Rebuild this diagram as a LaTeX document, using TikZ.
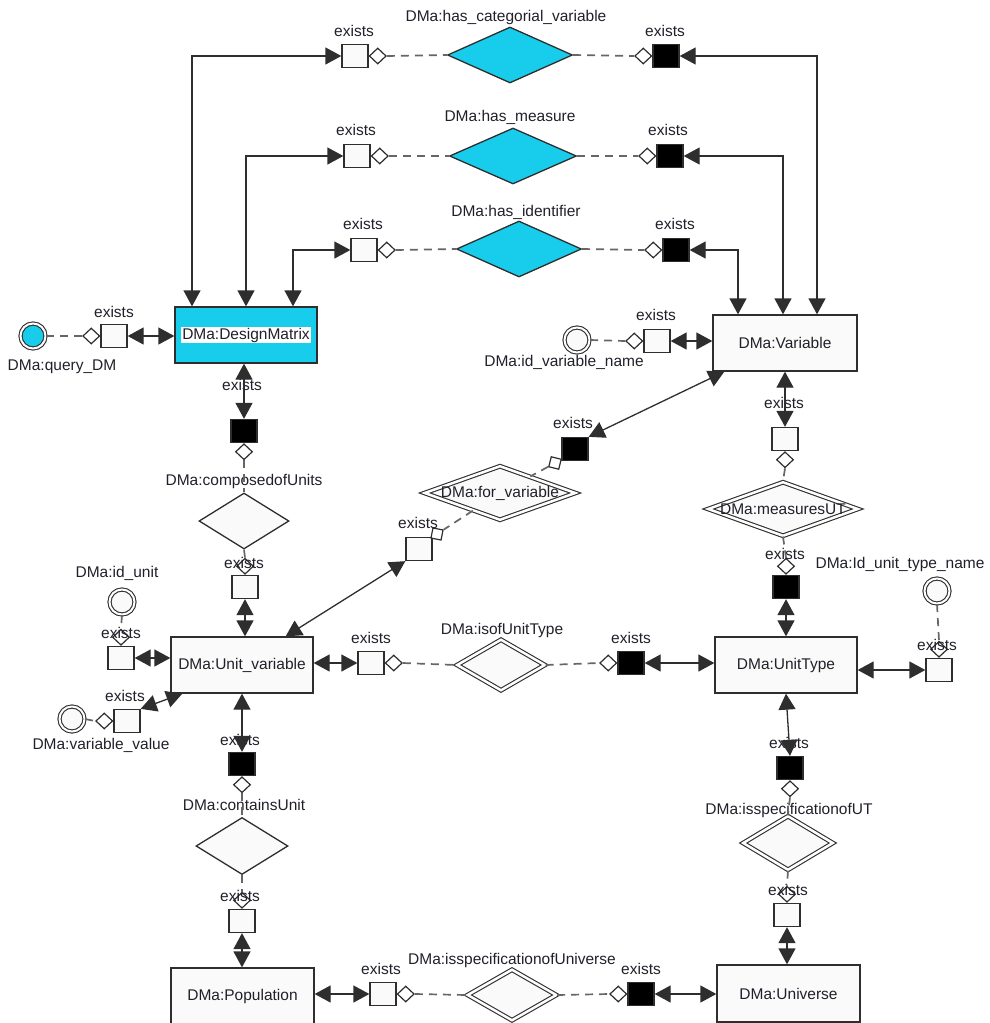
\documentclass[tikz,border=0pt]{standalone}
\usepackage{fontspec}
\setmainfont{Liberation Sans}
\usepackage{tikz}
\usetikzlibrary{arrows.meta,positioning,shapes.geometric}
\definecolor{ink}{HTML}{231F2A}
\definecolor{edge}{HTML}{2E2E2E}
\definecolor{dashgray}{HTML}{666666}
\definecolor{boxfill}{HTML}{FAFAFA}
\definecolor{cyanfill}{HTML}{18CCEC}
\tikzset{
  every node/.style={font=\fontsize{15.5}{18}\selectfont,text=ink},
  entity/.style={draw=edge,line width=1.3pt,fill=boxfill,minimum width=142pt,minimum height=56pt,inner sep=2pt},
  keyentity/.style={entity,fill=cyanfill},
  rel/.style={diamond,draw=edge,line width=1.3pt,fill=boxfill,inner sep=0pt},
  keyrel/.style={rel,fill=cyanfill},
  weakrel/.style={rel,line width=1.1pt,double=white,double distance=2.5pt},
  role/.style={draw=edge,line width=1.3pt,fill=boxfill,minimum width=26pt,minimum height=23pt,inner sep=0pt},
  rolefull/.style={role,fill=black},
  hook/.style={diamond,draw=edge,line width=1.2pt,fill=white,minimum width=17pt,minimum height=16pt,inner sep=0pt},
  attr/.style={circle,draw=edge,line width=1.1pt,double=white,double distance=2pt,fill=boxfill,minimum size=25pt,inner sep=0pt},
  biarrow/.style={{Triangle[length=16pt,width=17pt]}-{Triangle[length=16pt,width=17pt]},line width=1.3pt,draw=edge},
  dashlink/.style={dash pattern=on 8pt off 6pt,line width=1.7pt,draw=dashgray}
}
\begin{document}
\begin{tikzpicture}[x=1pt,y=-1pt]
  \useasboundingbox (0,0) rectangle (989,1023);

  % entities
  \node[keyentity] (dm) at (246,335) {{\setlength{\fboxsep}{0.8pt}\colorbox{white}{DMa:DesignMatrix}}};
  \node[entity,minimum width=144pt] (var) at (785,343) {DMa:Variable};
  \node[entity] (uv) at (242,665) {DMa:Unit\_variable};
  \node[entity] (ut) at (786,665) {DMa:UnitType};
  \node[entity,minimum width=143pt] (pop) at (242.5,996) {DMa:Population};
  \node[entity,minimum width=143pt,minimum height=57pt] (uni) at (788.5,993.5) {DMa:Universe};

  % relationships
  \node[keyrel,minimum width=125pt,minimum height=56pt] (hcv) at (510,55) {};
  \node[keyrel,minimum width=127pt,minimum height=56pt] (hm) at (513,156) {};
  \node[keyrel,minimum width=125pt,minimum height=56pt] (hi) at (519,249) {};
  \node[rel,minimum width=90pt,minimum height=56pt] (cou) at (244,521) {};
  \node[rel,minimum width=92pt,minimum height=57pt] (cu) at (242,846) {};
  \node[weakrel,minimum width=151pt,minimum height=54pt] (fv) at (500,493) {};
  \node[weakrel,minimum width=150pt,minimum height=54pt] (mut) at (783,509) {};
  \node[weakrel,minimum width=88pt,minimum height=51pt] (iut) at (501,665) {};
  \node[weakrel,minimum width=90pt,minimum height=54pt] (isut) at (788,843) {};
  \node[weakrel,minimum width=89pt,minimum height=51pt] (isu) at (512,995) {};

  \node (thcv) at (506,17) {DMa:has\_categorial\_variable};
  \node (thm) at (510,117) {DMa:has\_measure};
  \node (thi) at (516,212) {DMa:has\_identifier};
  \node (tcou) at (244,481) {DMa:composedofUnits};
  \node (tcu) at (244,805) {DMa:containsUnit};
  \node (tfv) at (fv) {DMa:for\_variable};
  \node (tmut) at (mut) {DMa:measuresUT};
  \node (tiut) at (502,630) {DMa:isofUnitType};
  \node (tisut) at (789,810) {DMa:isspecificationofUT};
  \node (tisu) at (512,960) {DMa:isspecificationofUniverse};

  % attributes
  \node[attr,fill=cyanfill] (aq) at (33,336) {};
  \node[attr] (aidv) at (577,340) {};
  \node[attr] (aidu) at (122,602) {};
  \node[attr] (avv) at (72,719) {};
  \node[attr] (autn) at (937,591) {};
  \node (taq) at (62,367) {DMa:query\_DM};
  \node (taidv) at (564,362) {DMa:id\_variable\_name};
  \node (taidu) at (117,573) {DMa:id\_unit};
  \node (tavv) at (101,745) {DMa:variable\_value};
  \node (tautn) at (900,564) {DMa:Id\_unit\_type\_name};

  % roles
  \node[role] (r1w) at (355,56) {};
  \node[hook,right=0pt of r1w] (r1wh) {};
  \node[rolefull] (r1b) at (666,56) {};
  \node[hook,left=0pt of r1b] (r1bh) {};
  \node[role] (r2w) at (357,156) {};
  \node[hook,right=0pt of r2w] (r2wh) {};
  \node[rolefull] (r2b) at (670,156) {};
  \node[hook,left=0pt of r2b] (r2bh) {};
  \node[role] (r3w) at (364,250) {};
  \node[hook,right=0pt of r3w] (r3wh) {};
  \node[rolefull] (r3b) at (676,250) {};
  \node[hook,left=0pt of r3b] (r3bh) {};
  \node[role] (qdm) at (114,336) {};
  \node[hook,left=0pt of qdm] (qdmh) {};
  \node[role] (qvar) at (657,341) {};
  \node[hook,left=0pt of qvar] (qvarh) {};
  \node[rolefull] (dmb) at (244,431) {};
  \node[hook,below=0pt of dmb] (dmbh) {};
  \node[role] (couw) at (245,587) {};
  \node[hook,above=0pt of couw] (couwh) {};
  \node[role] (idu) at (121,658) {};
  \node[hook,above=0pt of idu] (iduh) {};
  \node[role] (vv) at (127,721) {};
  \node[hook,left=0pt of vv] (vvh) {};
  \node[rolefull] (uvb) at (242,764) {};
  \node[hook,below=0pt of uvb] (uvbh) {};
  \node[role] (cuw) at (242,921) {};
  \node[hook,above=0pt of cuw] (cuwh) {};
  \node[role] (uvr) at (371,663) {};
  \node[hook,right=0pt of uvr] (uvrh) {};
  \node[rolefull] (utl) at (631,663) {};
  \node[hook,left=0pt of utl] (utlh) {};
  \node[rolefull] (fvb) at (575,449) {};
  \node[hook,rotate=31,minimum width=15pt,minimum height=15pt] (fvbh) at (555,463) {};
  \node[role] (fvw) at (419,549) {};
  \node[hook,rotate=34,minimum width=15pt,minimum height=15pt] (fvwh) at (437,534) {};
  \node[role] (varw) at (785,439) {};
  \node[hook,below=0pt of varw] (varwh) {};
  \node[rolefull] (utb) at (786,587) {};
  \node[hook,above=0pt of utb] (utbh) {};
  \node[role] (utr) at (939,670) {};
  \node[hook,above=0pt of utr] (utrh) {};
  \node[rolefull] (utb2) at (790,768) {};
  \node[hook,below=0pt of utb2] (utb2h) {};
  \node[role] (unw) at (787,915) {};
  \node[hook,above=0pt of unw] (unwh) {};
  \node[role] (popr) at (383,994) {};
  \node[hook,right=0pt of popr] (poprh) {};
  \node[rolefull] (unl) at (641,994) {};
  \node[hook,left=0pt of unl] (unlh) {};

  \foreach \p [count=\i] in {(354,31),(665,31),(356,130),(668,130),(363,224),(675,224),(114,312),(656,315),(242,385),(244,563),(121,633),(125,696),(240,740),(240,896),(371,638),(631,638),(573,423),(418,523),(784,403),(785,554),(937,645),(789,743),(788,890),(381,969),(641,969)}
    \node (ex\i) at \p {exists};

  % solid connectors
  \draw[biarrow] (r1w.west) -| ([xshift=-54pt]dm.north);
  \draw[biarrow] (r1b.east) -| ([xshift=32pt]var.north);
  \draw[biarrow] (r2w.west) -| (dm.north);
  \draw[biarrow] (r2b.east) -| ([xshift=-2pt]var.north);
  \draw[biarrow] (r3w.west) -| ([xshift=47pt]dm.north);
  \draw[biarrow] (r3b.east) -| ([xshift=-47pt]var.north);
  \draw[biarrow] (qdm.east) -- (qdm.east -| dm.west);
  \draw[biarrow] (qvar.east) -- (qvar.east -| var.west);
  \draw[biarrow] (dmb.north |- dm.south) -- (dmb.north);
  \draw[biarrow] (couw.south) -- (couw.south |- uv.north);
  \draw[biarrow] (idu.east) -- (idu.east -| uv.west);
  \draw[biarrow] (vv.north east) -- ([xshift=12pt]uv.south west);
  \draw[biarrow] (uvb.north |- uv.south) -- (uvb.north);
  \draw[biarrow] (cuw.south) -- (cuw.south |- pop.north);
  \draw[biarrow] (uvr.west -| uv.east) -- (uvr.west);
  \draw[biarrow] (utl.east) -- (utl.east -| ut.west);
  \draw[biarrow] (fvb.north east) -- ([xshift=12pt]var.south west);
  \draw[biarrow] (fvw.south west) -- ([xshift=-28pt]uv.north east);
  \draw[biarrow] (varw.north |- var.south) -- (varw.north);
  \draw[biarrow] (utb.south) -- (utb.south |- ut.north);
  \draw[biarrow] (utr.west -| ut.east) -- (utr.west);
  \draw[biarrow] (ut.south) -- (utb2.north);
  \draw[biarrow] (unw.south) -- (unw.south |- uni.north);
  \draw[biarrow] (popr.west -| pop.east) -- (popr.west);
  \draw[biarrow] (unl.east) -- (unl.east -| uni.west);

  % dashed connectors
  \draw[dashlink] (r1wh.east) -- (hcv.west);
  \draw[dashlink] (hcv.east) -- (r1bh.west);
  \draw[dashlink] (r2wh.east) -- (hm.west);
  \draw[dashlink] (hm.east) -- (r2bh.west);
  \draw[dashlink] (r3wh.east) -- (hi.west);
  \draw[dashlink] (hi.east) -- (r3bh.west);
  \draw[dashlink] (aq.east) -- (qdmh.west);
  \draw[dashlink] (aidv.east) -- (qvarh.west);
  \draw[dashlink] (dmbh.south) -- (cou.north);
  \draw[dashlink] (cou.south) -- (couwh.north);
  \draw[dashlink] (aidu.south) -- (iduh.north);
  \draw[dashlink] (avv.east) -- (vvh.west);
  \draw[dashlink] (uvbh.south) -- (cu.north);
  \draw[dashlink] (cu.south) -- (cuwh.north);
  \draw[dashlink] (uvrh.east) -- (iut.west);
  \draw[dashlink] (iut.east) -- (utlh.west);
  \draw[dashlink] (fvbh) -- (fv);
  \draw[dashlink] (fv) -- (fvwh);
  \draw[dashlink] (varwh.south) -- (mut.north);
  \draw[dashlink] (mut.south) -- (utbh.north);
  \draw[dashlink] (autn.south) -- (utrh.north);
  \draw[dashlink] (utb2h.south) -- (isut.north);
  \draw[dashlink] (isut.south) -- (unwh.north);
  \draw[dashlink] (poprh.east) -- (isu.west);
  \draw[dashlink] (isu.east) -- (unlh.west);
\end{tikzpicture}
\end{document}
